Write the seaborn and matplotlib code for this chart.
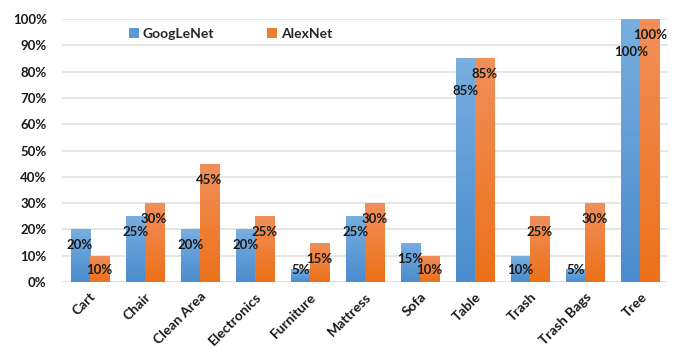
import numpy as np
import pandas as pd
import matplotlib
matplotlib.use("Agg")
import matplotlib.pyplot as plt
from matplotlib.colors import LinearSegmentedColormap
from matplotlib.ticker import MultipleLocator, FuncFormatter
import seaborn as sns

categories = ["Cart", "Chair", "Clean Area", "Electronics", "Furniture", "Mattress",
              "Sofa", "Table", "Trash", "Trash Bags", "Tree"]
googlenet = [20, 25, 20, 20, 5, 25, 15, 85, 10, 5, 100]
alexnet = [10, 30, 45, 25, 15, 30, 10, 85, 25, 30, 100]
series = ["GoogLeNet", "AlexNet"]

df = pd.DataFrame({
    "category": categories * 2,
    "value": googlenet + alexnet,
    "model": [series[0]] * len(categories) + [series[1]] * len(categories),
})

sns.set_theme(style="white")
plt.rcParams["font.family"] = ["Lato", "DejaVu Sans"]

base = {"GoogLeNet": "#5b9bd5", "AlexNet": "#ed7d31"}
grad = {
    "GoogLeNet": ("#78aee0", "#4a8ccd"),
    "AlexNet": ("#f18f5a", "#ec7119"),
}

fig = plt.figure(figsize=(6.78, 3.49), dpi=100)
ax = fig.add_axes([62 / 678, 1 - 282 / 349, 606 / 678, 263 / 349])

sns.barplot(data=df, x="category", y="value", hue="model", palette=base,
            width=0.69, gap=0, ax=ax, legend=True, linewidth=0, saturation=1)

ax.set_ylim(0, 100)
ax.set_xlim(-0.5, len(categories) - 0.5)

# vertical gradient fill inside each bar, lighter at the top
for container, name in zip(ax.containers, series):
    cmap = LinearSegmentedColormap.from_list(name, [grad[name][1], grad[name][0]])
    for patch in container.patches:
        x, w, h = patch.get_x(), patch.get_width(), patch.get_height()
        if h <= 0:
            continue
        img = ax.imshow(np.linspace(0, 1, 64).reshape(-1, 1), cmap=cmap,
                        extent=[x, x + w, 0, h], origin="lower", aspect="auto",
                        zorder=patch.get_zorder() + 0.1)
        img.set_clip_path(patch)

ax.set_ylim(0, 100)
ax.set_xlim(-0.5, len(categories) - 0.5)

# value labels placed just inside the top of each bar
for container, name, vals, other in zip(ax.containers, series,
                                        [googlenet, alexnet], [alexnet, googlenet]):
    for patch, v, o in zip(container.patches, vals, other):
        xc = patch.get_x() + patch.get_width() / 2
        y = max(v - 6.1, 4.6)
        if name == "GoogLeNet" and v == o:
            y = v - 12.5
        ax.text(xc, y, f"{v}%", ha="center", va="center", fontsize=9.5,
                fontweight="bold", color="#1a1a1a", zorder=10)

ax.yaxis.set_major_locator(MultipleLocator(10))
ax.yaxis.set_major_formatter(FuncFormatter(lambda v, p: f"{int(round(v))}%"))
ax.grid(axis="y", color="#e3e3e3", linewidth=1.2)
ax.set_axisbelow(True)
for s in ax.spines.values():
    s.set_visible(False)
ax.axhline(0, color="#d6d6d6", linewidth=1.2, zorder=0.5)

ax.set_xlabel("")
ax.set_ylabel("")
ax.tick_params(axis="both", length=0)
ax.tick_params(axis="y", pad=11, labelsize=9.5, labelcolor="#1a1a1a")
ax.tick_params(axis="x", pad=6, labelsize=10, labelcolor="#1a1a1a")
for t in ax.get_yticklabels():
    t.set_fontweight("bold")
for t in ax.get_xticklabels():
    t.set_fontweight("bold")
    t.set_rotation(45)
    t.set_ha("right")
    t.set_rotation_mode("anchor")

handles, labels = ax.get_legend_handles_labels()
ax.legend(handles, labels, loc="center", bbox_to_anchor=(0.278, 0.943), ncol=2,
          frameon=False, handlelength=0.7, handleheight=0.7, handletextpad=0.3,
          columnspacing=3.8, prop={"weight": "bold", "size": 10})

fig.savefig("out.png", dpi=100)
